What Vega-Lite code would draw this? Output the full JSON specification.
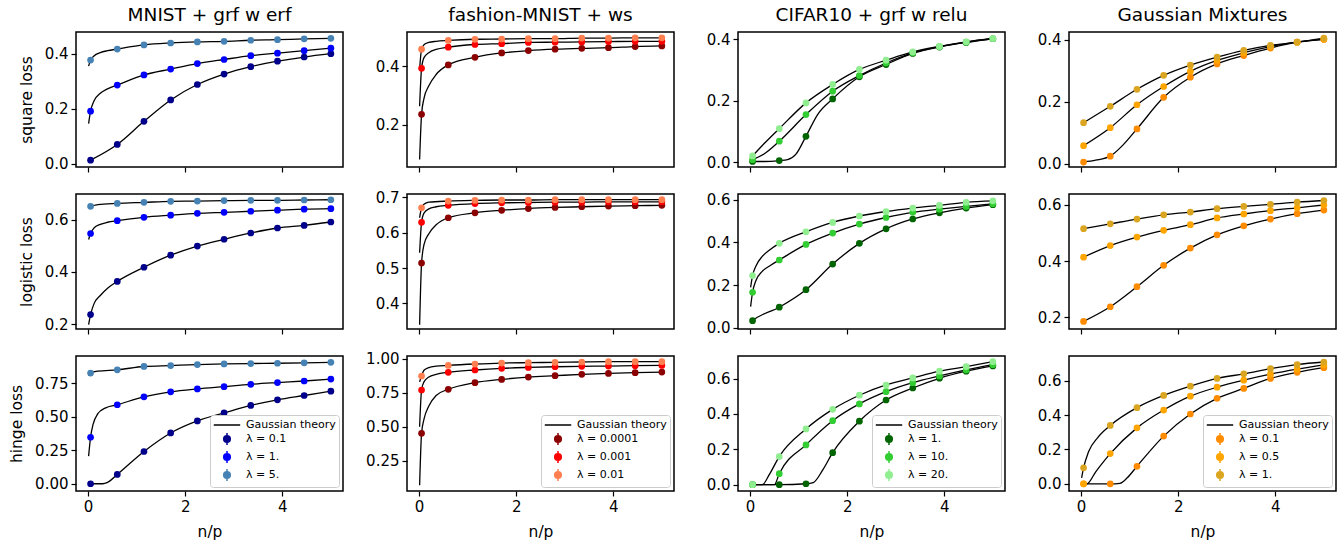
{
"$schema":"https://vega.github.io/schema/vega-lite/v6.json",
"background":"white",
"padding":{"left":8,"top":4,"right":5,"bottom":3},
"columns":4,
"spacing":{"row":27,"column":64},
"bounds":"flush",
"resolve":{"scale":{"color":"independent"},"legend":{"color":"independent"}},
"data":{"values":[
{"p":0,"s":"λ = 0.1","t":"d","x":0.05,"y":0.013},{"p":0,"s":"λ = 0.1","t":"d","x":0.6,"y":0.07},{"p":0,"s":"λ = 0.1","t":"d","x":1.15,"y":0.154},{"p":0,"s":"λ = 0.1","t":"d","x":1.7,"y":0.232},{"p":0,"s":"λ = 0.1","t":"d","x":2.25,"y":0.288},{"p":0,"s":"λ = 0.1","t":"d","x":2.8,"y":0.326},{"p":0,"s":"λ = 0.1","t":"d","x":3.35,"y":0.353},{"p":0,"s":"λ = 0.1","t":"d","x":3.9,"y":0.373},{"p":0,"s":"λ = 0.1","t":"d","x":4.45,"y":0.388},{"p":0,"s":"λ = 0.1","t":"d","x":5,"y":0.4},
{"p":0,"s":"λ = 1.","t":"d","x":0.05,"y":0.191},{"p":0,"s":"λ = 1.","t":"d","x":0.6,"y":0.286},{"p":0,"s":"λ = 1.","t":"d","x":1.15,"y":0.323},{"p":0,"s":"λ = 1.","t":"d","x":1.7,"y":0.344},{"p":0,"s":"λ = 1.","t":"d","x":2.25,"y":0.364},{"p":0,"s":"λ = 1.","t":"d","x":2.8,"y":0.379},{"p":0,"s":"λ = 1.","t":"d","x":3.35,"y":0.393},{"p":0,"s":"λ = 1.","t":"d","x":3.9,"y":0.402},{"p":0,"s":"λ = 1.","t":"d","x":4.45,"y":0.411},{"p":0,"s":"λ = 1.","t":"d","x":5,"y":0.42},
{"p":0,"s":"λ = 1.","t":"g","x":0.01,"y":0.146},{"p":0,"s":"λ = 1.","t":"g","x":0.12,"y":0.228},{"p":0,"s":"λ = 1.","t":"g","x":0.25,"y":0.256},{"p":0,"s":"λ = 1.","t":"g","x":0.4,"y":0.272},
{"p":0,"s":"λ = 5.","t":"d","x":0.05,"y":0.377},{"p":0,"s":"λ = 5.","t":"d","x":0.6,"y":0.417},{"p":0,"s":"λ = 5.","t":"d","x":1.15,"y":0.432},{"p":0,"s":"λ = 5.","t":"d","x":1.7,"y":0.439},{"p":0,"s":"λ = 5.","t":"d","x":2.25,"y":0.443},{"p":0,"s":"λ = 5.","t":"d","x":2.8,"y":0.445},{"p":0,"s":"λ = 5.","t":"d","x":3.35,"y":0.449},{"p":0,"s":"λ = 5.","t":"d","x":3.9,"y":0.451},{"p":0,"s":"λ = 5.","t":"d","x":4.45,"y":0.454},{"p":0,"s":"λ = 5.","t":"d","x":5,"y":0.456},
{"p":0,"s":"λ = 5.","t":"g","x":0.01,"y":0.355},{"p":0,"s":"λ = 5.","t":"g","x":0.12,"y":0.392},{"p":0,"s":"λ = 5.","t":"g","x":0.25,"y":0.404},{"p":0,"s":"λ = 5.","t":"g","x":0.4,"y":0.411},

{"p":1,"s":"λ = 0.0001","t":"d","x":0.05,"y":0.235},{"p":1,"s":"λ = 0.0001","t":"d","x":0.6,"y":0.405},{"p":1,"s":"λ = 0.0001","t":"d","x":1.15,"y":0.431},{"p":1,"s":"λ = 0.0001","t":"d","x":1.7,"y":0.446},{"p":1,"s":"λ = 0.0001","t":"d","x":2.25,"y":0.454},{"p":1,"s":"λ = 0.0001","t":"d","x":2.8,"y":0.459},{"p":1,"s":"λ = 0.0001","t":"d","x":3.35,"y":0.462},{"p":1,"s":"λ = 0.0001","t":"d","x":3.9,"y":0.464},{"p":1,"s":"λ = 0.0001","t":"d","x":4.45,"y":0.468},{"p":1,"s":"λ = 0.0001","t":"d","x":5,"y":0.47},
{"p":1,"s":"λ = 0.0001","t":"g","x":0.01,"y":0.08},{"p":1,"s":"λ = 0.0001","t":"g","x":0.1,"y":0.29},{"p":1,"s":"λ = 0.0001","t":"g","x":0.2,"y":0.333},{"p":1,"s":"λ = 0.0001","t":"g","x":0.35,"y":0.372},
{"p":1,"s":"λ = 0.001","t":"d","x":0.05,"y":0.393},{"p":1,"s":"λ = 0.001","t":"d","x":0.6,"y":0.466},{"p":1,"s":"λ = 0.001","t":"d","x":1.15,"y":0.475},{"p":1,"s":"λ = 0.001","t":"d","x":1.7,"y":0.478},{"p":1,"s":"λ = 0.001","t":"d","x":2.25,"y":0.482},{"p":1,"s":"λ = 0.001","t":"d","x":2.8,"y":0.483},{"p":1,"s":"λ = 0.001","t":"d","x":3.35,"y":0.484},{"p":1,"s":"λ = 0.001","t":"d","x":3.9,"y":0.485},{"p":1,"s":"λ = 0.001","t":"d","x":4.45,"y":0.486},{"p":1,"s":"λ = 0.001","t":"d","x":5,"y":0.486},
{"p":1,"s":"λ = 0.001","t":"g","x":0.01,"y":0.263},{"p":1,"s":"λ = 0.001","t":"g","x":0.1,"y":0.43},{"p":1,"s":"λ = 0.001","t":"g","x":0.2,"y":0.447},{"p":1,"s":"λ = 0.001","t":"g","x":0.35,"y":0.458},
{"p":1,"s":"λ = 0.01","t":"d","x":0.05,"y":0.459},{"p":1,"s":"λ = 0.01","t":"d","x":0.6,"y":0.489},{"p":1,"s":"λ = 0.01","t":"d","x":1.15,"y":0.493},{"p":1,"s":"λ = 0.01","t":"d","x":1.7,"y":0.494},{"p":1,"s":"λ = 0.01","t":"d","x":2.25,"y":0.495},{"p":1,"s":"λ = 0.01","t":"d","x":2.8,"y":0.495},{"p":1,"s":"λ = 0.01","t":"d","x":3.35,"y":0.497},{"p":1,"s":"λ = 0.01","t":"d","x":3.9,"y":0.497},{"p":1,"s":"λ = 0.01","t":"d","x":4.45,"y":0.498},{"p":1,"s":"λ = 0.01","t":"d","x":5,"y":0.498},
{"p":1,"s":"λ = 0.01","t":"g","x":0.01,"y":0.39},{"p":1,"s":"λ = 0.01","t":"g","x":0.1,"y":0.474},{"p":1,"s":"λ = 0.01","t":"g","x":0.2,"y":0.482},{"p":1,"s":"λ = 0.01","t":"g","x":0.35,"y":0.486},

{"p":2,"s":"λ = 1.","t":"d","x":0.05,"y":0.002},{"p":2,"s":"λ = 1.","t":"d","x":0.6,"y":0.005},{"p":2,"s":"λ = 1.","t":"d","x":1.15,"y":0.084},{"p":2,"s":"λ = 1.","t":"d","x":1.7,"y":0.206},{"p":2,"s":"λ = 1.","t":"d","x":2.25,"y":0.278},{"p":2,"s":"λ = 1.","t":"d","x":2.8,"y":0.318},{"p":2,"s":"λ = 1.","t":"d","x":3.35,"y":0.354},{"p":2,"s":"λ = 1.","t":"d","x":3.9,"y":0.375},{"p":2,"s":"λ = 1.","t":"d","x":4.45,"y":0.39},{"p":2,"s":"λ = 1.","t":"d","x":5,"y":0.402},
{"p":2,"s":"λ = 1.","t":"g","x":0.3,"y":0.002},{"p":2,"s":"λ = 1.","t":"g","x":0.77,"y":0.008},{"p":2,"s":"λ = 1.","t":"g","x":0.94,"y":0.025},{"p":2,"s":"λ = 1.","t":"g","x":1.39,"y":0.155},
{"p":2,"s":"λ = 10.","t":"d","x":0.05,"y":0.008},{"p":2,"s":"λ = 10.","t":"d","x":0.6,"y":0.068},{"p":2,"s":"λ = 10.","t":"d","x":1.15,"y":0.155},{"p":2,"s":"λ = 10.","t":"d","x":1.7,"y":0.231},{"p":2,"s":"λ = 10.","t":"d","x":2.25,"y":0.282},{"p":2,"s":"λ = 10.","t":"d","x":2.8,"y":0.323},{"p":2,"s":"λ = 10.","t":"d","x":3.35,"y":0.356},{"p":2,"s":"λ = 10.","t":"d","x":3.9,"y":0.376},{"p":2,"s":"λ = 10.","t":"d","x":4.45,"y":0.391},{"p":2,"s":"λ = 10.","t":"d","x":5,"y":0.402},
{"p":2,"s":"λ = 10.","t":"g","x":0.3,"y":0.028},
{"p":2,"s":"λ = 20.","t":"d","x":0.05,"y":0.02},{"p":2,"s":"λ = 20.","t":"d","x":0.6,"y":0.109},{"p":2,"s":"λ = 20.","t":"d","x":1.15,"y":0.193},{"p":2,"s":"λ = 20.","t":"d","x":1.7,"y":0.253},{"p":2,"s":"λ = 20.","t":"d","x":2.25,"y":0.302},{"p":2,"s":"λ = 20.","t":"d","x":2.8,"y":0.332},{"p":2,"s":"λ = 20.","t":"d","x":3.35,"y":0.359},{"p":2,"s":"λ = 20.","t":"d","x":3.9,"y":0.377},{"p":2,"s":"λ = 20.","t":"d","x":4.45,"y":0.392},{"p":2,"s":"λ = 20.","t":"d","x":5,"y":0.403},
{"p":2,"s":"λ = 20.","t":"g","x":0.3,"y":0.062},

{"p":3,"s":"λ = 0.1","t":"d","x":0.05,"y":0.005},{"p":3,"s":"λ = 0.1","t":"d","x":0.6,"y":0.024},{"p":3,"s":"λ = 0.1","t":"d","x":1.15,"y":0.112},{"p":3,"s":"λ = 0.1","t":"d","x":1.7,"y":0.214},{"p":3,"s":"λ = 0.1","t":"d","x":2.25,"y":0.279},{"p":3,"s":"λ = 0.1","t":"d","x":2.8,"y":0.322},{"p":3,"s":"λ = 0.1","t":"d","x":3.35,"y":0.349},{"p":3,"s":"λ = 0.1","t":"d","x":3.9,"y":0.373},{"p":3,"s":"λ = 0.1","t":"d","x":4.45,"y":0.392},{"p":3,"s":"λ = 0.1","t":"d","x":5,"y":0.401},
{"p":3,"s":"λ = 0.1","t":"g","x":0.3,"y":0.011},{"p":3,"s":"λ = 0.1","t":"g","x":0.85,"y":0.058},
{"p":3,"s":"λ = 0.5","t":"d","x":0.05,"y":0.058},{"p":3,"s":"λ = 0.5","t":"d","x":0.6,"y":0.116},{"p":3,"s":"λ = 0.5","t":"d","x":1.15,"y":0.19},{"p":3,"s":"λ = 0.5","t":"d","x":1.7,"y":0.249},{"p":3,"s":"λ = 0.5","t":"d","x":2.25,"y":0.298},{"p":3,"s":"λ = 0.5","t":"d","x":2.8,"y":0.333},{"p":3,"s":"λ = 0.5","t":"d","x":3.35,"y":0.358},{"p":3,"s":"λ = 0.5","t":"d","x":3.9,"y":0.378},{"p":3,"s":"λ = 0.5","t":"d","x":4.45,"y":0.392},{"p":3,"s":"λ = 0.5","t":"d","x":5,"y":0.402},
{"p":3,"s":"λ = 1.","t":"d","x":0.05,"y":0.132},{"p":3,"s":"λ = 1.","t":"d","x":0.6,"y":0.185},{"p":3,"s":"λ = 1.","t":"d","x":1.15,"y":0.24},{"p":3,"s":"λ = 1.","t":"d","x":1.7,"y":0.285},{"p":3,"s":"λ = 1.","t":"d","x":2.25,"y":0.318},{"p":3,"s":"λ = 1.","t":"d","x":2.8,"y":0.344},{"p":3,"s":"λ = 1.","t":"d","x":3.35,"y":0.366},{"p":3,"s":"λ = 1.","t":"d","x":3.9,"y":0.382},{"p":3,"s":"λ = 1.","t":"d","x":4.45,"y":0.392},{"p":3,"s":"λ = 1.","t":"d","x":5,"y":0.405},

{"p":4,"s":"λ = 0.1","t":"d","x":0.05,"y":0.237},{"p":4,"s":"λ = 0.1","t":"d","x":0.6,"y":0.364},{"p":4,"s":"λ = 0.1","t":"d","x":1.15,"y":0.418},{"p":4,"s":"λ = 0.1","t":"d","x":1.7,"y":0.464},{"p":4,"s":"λ = 0.1","t":"d","x":2.25,"y":0.499},{"p":4,"s":"λ = 0.1","t":"d","x":2.8,"y":0.525},{"p":4,"s":"λ = 0.1","t":"d","x":3.35,"y":0.549},{"p":4,"s":"λ = 0.1","t":"d","x":3.9,"y":0.568},{"p":4,"s":"λ = 0.1","t":"d","x":4.45,"y":0.578},{"p":4,"s":"λ = 0.1","t":"d","x":5,"y":0.591},
{"p":4,"s":"λ = 0.1","t":"g","x":0.01,"y":0.199},{"p":4,"s":"λ = 0.1","t":"g","x":0.12,"y":0.278},{"p":4,"s":"λ = 0.1","t":"g","x":0.25,"y":0.31},{"p":4,"s":"λ = 0.1","t":"g","x":0.4,"y":0.338},
{"p":4,"s":"λ = 1.","t":"d","x":0.05,"y":0.547},{"p":4,"s":"λ = 1.","t":"d","x":0.6,"y":0.596},{"p":4,"s":"λ = 1.","t":"d","x":1.15,"y":0.609},{"p":4,"s":"λ = 1.","t":"d","x":1.7,"y":0.617},{"p":4,"s":"λ = 1.","t":"d","x":2.25,"y":0.624},{"p":4,"s":"λ = 1.","t":"d","x":2.8,"y":0.628},{"p":4,"s":"λ = 1.","t":"d","x":3.35,"y":0.632},{"p":4,"s":"λ = 1.","t":"d","x":3.9,"y":0.636},{"p":4,"s":"λ = 1.","t":"d","x":4.45,"y":0.64},{"p":4,"s":"λ = 1.","t":"d","x":5,"y":0.642},
{"p":4,"s":"λ = 1.","t":"g","x":0.01,"y":0.524},{"p":4,"s":"λ = 1.","t":"g","x":0.12,"y":0.568},{"p":4,"s":"λ = 1.","t":"g","x":0.25,"y":0.582},{"p":4,"s":"λ = 1.","t":"g","x":0.4,"y":0.59},
{"p":4,"s":"λ = 5.","t":"d","x":0.05,"y":0.651},{"p":4,"s":"λ = 5.","t":"d","x":0.6,"y":0.662},{"p":4,"s":"λ = 5.","t":"d","x":1.15,"y":0.666},{"p":4,"s":"λ = 5.","t":"d","x":1.7,"y":0.67},{"p":4,"s":"λ = 5.","t":"d","x":2.25,"y":0.671},{"p":4,"s":"λ = 5.","t":"d","x":2.8,"y":0.673},{"p":4,"s":"λ = 5.","t":"d","x":3.35,"y":0.674},{"p":4,"s":"λ = 5.","t":"d","x":3.9,"y":0.674},{"p":4,"s":"λ = 5.","t":"d","x":4.45,"y":0.675},{"p":4,"s":"λ = 5.","t":"d","x":5,"y":0.676},
{"p":4,"s":"λ = 5.","t":"g","x":0.01,"y":0.647},{"p":4,"s":"λ = 5.","t":"g","x":0.2,"y":0.657},

{"p":5,"s":"λ = 0.0001","t":"d","x":0.05,"y":0.514},{"p":5,"s":"λ = 0.0001","t":"d","x":0.6,"y":0.642},{"p":5,"s":"λ = 0.0001","t":"d","x":1.15,"y":0.656},{"p":5,"s":"λ = 0.0001","t":"d","x":1.7,"y":0.663},{"p":5,"s":"λ = 0.0001","t":"d","x":2.25,"y":0.668},{"p":5,"s":"λ = 0.0001","t":"d","x":2.8,"y":0.671},{"p":5,"s":"λ = 0.0001","t":"d","x":3.35,"y":0.673},{"p":5,"s":"λ = 0.0001","t":"d","x":3.9,"y":0.675},{"p":5,"s":"λ = 0.0001","t":"d","x":4.45,"y":0.676},{"p":5,"s":"λ = 0.0001","t":"d","x":5,"y":0.677},
{"p":5,"s":"λ = 0.0001","t":"g","x":0.01,"y":0.34},{"p":5,"s":"λ = 0.0001","t":"g","x":0.1,"y":0.566},{"p":5,"s":"λ = 0.0001","t":"g","x":0.2,"y":0.597},{"p":5,"s":"λ = 0.0001","t":"g","x":0.35,"y":0.622},
{"p":5,"s":"λ = 0.001","t":"d","x":0.05,"y":0.629},{"p":5,"s":"λ = 0.001","t":"d","x":0.6,"y":0.677},{"p":5,"s":"λ = 0.001","t":"d","x":1.15,"y":0.682},{"p":5,"s":"λ = 0.001","t":"d","x":1.7,"y":0.684},{"p":5,"s":"λ = 0.001","t":"d","x":2.25,"y":0.685},{"p":5,"s":"λ = 0.001","t":"d","x":2.8,"y":0.686},{"p":5,"s":"λ = 0.001","t":"d","x":3.35,"y":0.686},{"p":5,"s":"λ = 0.001","t":"d","x":3.9,"y":0.687},{"p":5,"s":"λ = 0.001","t":"d","x":4.45,"y":0.687},{"p":5,"s":"λ = 0.001","t":"d","x":5,"y":0.687},
{"p":5,"s":"λ = 0.001","t":"g","x":0.01,"y":0.543},{"p":5,"s":"λ = 0.001","t":"g","x":0.1,"y":0.655},{"p":5,"s":"λ = 0.001","t":"g","x":0.2,"y":0.667},{"p":5,"s":"λ = 0.001","t":"g","x":0.35,"y":0.673},
{"p":5,"s":"λ = 0.01","t":"d","x":0.05,"y":0.67},{"p":5,"s":"λ = 0.01","t":"d","x":0.6,"y":0.689},{"p":5,"s":"λ = 0.01","t":"d","x":1.15,"y":0.691},{"p":5,"s":"λ = 0.01","t":"d","x":1.7,"y":0.692},{"p":5,"s":"λ = 0.01","t":"d","x":2.25,"y":0.692},{"p":5,"s":"λ = 0.01","t":"d","x":2.8,"y":0.693},{"p":5,"s":"λ = 0.01","t":"d","x":3.35,"y":0.693},{"p":5,"s":"λ = 0.01","t":"d","x":3.9,"y":0.693},{"p":5,"s":"λ = 0.01","t":"d","x":4.45,"y":0.693},{"p":5,"s":"λ = 0.01","t":"d","x":5,"y":0.693},
{"p":5,"s":"λ = 0.01","t":"g","x":0.01,"y":0.642},{"p":5,"s":"λ = 0.01","t":"g","x":0.1,"y":0.68},{"p":5,"s":"λ = 0.01","t":"g","x":0.2,"y":0.686},

{"p":6,"s":"λ = 1.","t":"d","x":0.05,"y":0.034},{"p":6,"s":"λ = 1.","t":"d","x":0.6,"y":0.097},{"p":6,"s":"λ = 1.","t":"d","x":1.15,"y":0.179},{"p":6,"s":"λ = 1.","t":"d","x":1.7,"y":0.299},{"p":6,"s":"λ = 1.","t":"d","x":2.25,"y":0.396},{"p":6,"s":"λ = 1.","t":"d","x":2.8,"y":0.464},{"p":6,"s":"λ = 1.","t":"d","x":3.35,"y":0.51},{"p":6,"s":"λ = 1.","t":"d","x":3.9,"y":0.539},{"p":6,"s":"λ = 1.","t":"d","x":4.45,"y":0.561},{"p":6,"s":"λ = 1.","t":"d","x":5,"y":0.577},
{"p":6,"s":"λ = 1.","t":"g","x":0.01,"y":0.026},
{"p":6,"s":"λ = 10.","t":"d","x":0.05,"y":0.167},{"p":6,"s":"λ = 10.","t":"d","x":0.6,"y":0.318},{"p":6,"s":"λ = 10.","t":"d","x":1.15,"y":0.391},{"p":6,"s":"λ = 10.","t":"d","x":1.7,"y":0.444},{"p":6,"s":"λ = 10.","t":"d","x":2.25,"y":0.486},{"p":6,"s":"λ = 10.","t":"d","x":2.8,"y":0.517},{"p":6,"s":"λ = 10.","t":"d","x":3.35,"y":0.541},{"p":6,"s":"λ = 10.","t":"d","x":3.9,"y":0.556},{"p":6,"s":"λ = 10.","t":"d","x":4.45,"y":0.569},{"p":6,"s":"λ = 10.","t":"d","x":5,"y":0.581},
{"p":6,"s":"λ = 10.","t":"g","x":0.01,"y":0.1},{"p":6,"s":"λ = 10.","t":"g","x":0.12,"y":0.222},{"p":6,"s":"λ = 10.","t":"g","x":0.25,"y":0.265},{"p":6,"s":"λ = 10.","t":"g","x":0.4,"y":0.29},
{"p":6,"s":"λ = 20.","t":"d","x":0.05,"y":0.245},{"p":6,"s":"λ = 20.","t":"d","x":0.6,"y":0.396},{"p":6,"s":"λ = 20.","t":"d","x":1.15,"y":0.45},{"p":6,"s":"λ = 20.","t":"d","x":1.7,"y":0.494},{"p":6,"s":"λ = 20.","t":"d","x":2.25,"y":0.524},{"p":6,"s":"λ = 20.","t":"d","x":2.8,"y":0.545},{"p":6,"s":"λ = 20.","t":"d","x":3.35,"y":0.561},{"p":6,"s":"λ = 20.","t":"d","x":3.9,"y":0.574},{"p":6,"s":"λ = 20.","t":"d","x":4.45,"y":0.588},{"p":6,"s":"λ = 20.","t":"d","x":5,"y":0.595},
{"p":6,"s":"λ = 20.","t":"g","x":0.01,"y":0.19},{"p":6,"s":"λ = 20.","t":"g","x":0.12,"y":0.29},{"p":6,"s":"λ = 20.","t":"g","x":0.25,"y":0.335},{"p":6,"s":"λ = 20.","t":"g","x":0.4,"y":0.365},

{"p":7,"s":"λ = 0.1","t":"d","x":0.05,"y":0.186},{"p":7,"s":"λ = 0.1","t":"d","x":0.6,"y":0.238},{"p":7,"s":"λ = 0.1","t":"d","x":1.15,"y":0.309},{"p":7,"s":"λ = 0.1","t":"d","x":1.7,"y":0.385},{"p":7,"s":"λ = 0.1","t":"d","x":2.25,"y":0.446},{"p":7,"s":"λ = 0.1","t":"d","x":2.8,"y":0.493},{"p":7,"s":"λ = 0.1","t":"d","x":3.35,"y":0.525},{"p":7,"s":"λ = 0.1","t":"d","x":3.9,"y":0.549},{"p":7,"s":"λ = 0.1","t":"d","x":4.45,"y":0.568},{"p":7,"s":"λ = 0.1","t":"d","x":5,"y":0.581},
{"p":7,"s":"λ = 0.5","t":"d","x":0.05,"y":0.414},{"p":7,"s":"λ = 0.5","t":"d","x":0.6,"y":0.455},{"p":7,"s":"λ = 0.5","t":"d","x":1.15,"y":0.485},{"p":7,"s":"λ = 0.5","t":"d","x":1.7,"y":0.509},{"p":7,"s":"λ = 0.5","t":"d","x":2.25,"y":0.529},{"p":7,"s":"λ = 0.5","t":"d","x":2.8,"y":0.553},{"p":7,"s":"λ = 0.5","t":"d","x":3.35,"y":0.567},{"p":7,"s":"λ = 0.5","t":"d","x":3.9,"y":0.579},{"p":7,"s":"λ = 0.5","t":"d","x":4.45,"y":0.589},{"p":7,"s":"λ = 0.5","t":"d","x":5,"y":0.599},
{"p":7,"s":"λ = 1.","t":"d","x":0.05,"y":0.515},{"p":7,"s":"λ = 1.","t":"d","x":0.6,"y":0.532},{"p":7,"s":"λ = 1.","t":"d","x":1.15,"y":0.549},{"p":7,"s":"λ = 1.","t":"d","x":1.7,"y":0.564},{"p":7,"s":"λ = 1.","t":"d","x":2.25,"y":0.574},{"p":7,"s":"λ = 1.","t":"d","x":2.8,"y":0.586},{"p":7,"s":"λ = 1.","t":"d","x":3.35,"y":0.594},{"p":7,"s":"λ = 1.","t":"d","x":3.9,"y":0.601},{"p":7,"s":"λ = 1.","t":"d","x":4.45,"y":0.609},{"p":7,"s":"λ = 1.","t":"d","x":5,"y":0.615},

{"p":8,"s":"λ = 0.1","t":"d","x":0.05,"y":0},{"p":8,"s":"λ = 0.1","t":"d","x":0.6,"y":0.069},{"p":8,"s":"λ = 0.1","t":"d","x":1.15,"y":0.24},{"p":8,"s":"λ = 0.1","t":"d","x":1.7,"y":0.378},{"p":8,"s":"λ = 0.1","t":"d","x":2.25,"y":0.468},{"p":8,"s":"λ = 0.1","t":"d","x":2.8,"y":0.527},{"p":8,"s":"λ = 0.1","t":"d","x":3.35,"y":0.583},{"p":8,"s":"λ = 0.1","t":"d","x":3.9,"y":0.625},{"p":8,"s":"λ = 0.1","t":"d","x":4.45,"y":0.657},{"p":8,"s":"λ = 0.1","t":"d","x":5,"y":0.689},
{"p":8,"s":"λ = 0.1","t":"g","x":0.3,"y":0},{"p":8,"s":"λ = 0.1","t":"g","x":0.4,"y":0.01},
{"p":8,"s":"λ = 1.","t":"d","x":0.05,"y":0.346},{"p":8,"s":"λ = 1.","t":"d","x":0.6,"y":0.588},{"p":8,"s":"λ = 1.","t":"d","x":1.15,"y":0.647},{"p":8,"s":"λ = 1.","t":"d","x":1.7,"y":0.684},{"p":8,"s":"λ = 1.","t":"d","x":2.25,"y":0.706},{"p":8,"s":"λ = 1.","t":"d","x":2.8,"y":0.723},{"p":8,"s":"λ = 1.","t":"d","x":3.35,"y":0.74},{"p":8,"s":"λ = 1.","t":"d","x":3.9,"y":0.753},{"p":8,"s":"λ = 1.","t":"d","x":4.45,"y":0.765},{"p":8,"s":"λ = 1.","t":"d","x":5,"y":0.779},
{"p":8,"s":"λ = 1.","t":"g","x":0.01,"y":0.206},{"p":8,"s":"λ = 1.","t":"g","x":0.1,"y":0.44},{"p":8,"s":"λ = 1.","t":"g","x":0.2,"y":0.522},{"p":8,"s":"λ = 1.","t":"g","x":0.35,"y":0.563},
{"p":8,"s":"λ = 5.","t":"d","x":0.05,"y":0.824},{"p":8,"s":"λ = 5.","t":"d","x":0.6,"y":0.848},{"p":8,"s":"λ = 5.","t":"d","x":1.15,"y":0.873},{"p":8,"s":"λ = 5.","t":"d","x":1.7,"y":0.88},{"p":8,"s":"λ = 5.","t":"d","x":2.25,"y":0.887},{"p":8,"s":"λ = 5.","t":"d","x":2.8,"y":0.892},{"p":8,"s":"λ = 5.","t":"d","x":3.35,"y":0.895},{"p":8,"s":"λ = 5.","t":"d","x":3.9,"y":0.897},{"p":8,"s":"λ = 5.","t":"d","x":4.45,"y":0.9},{"p":8,"s":"λ = 5.","t":"d","x":5,"y":0.904},
{"p":8,"s":"λ = 5.","t":"g","x":0.01,"y":0.804},{"p":8,"s":"λ = 5.","t":"g","x":0.2,"y":0.838},

{"p":9,"s":"λ = 0.0001","t":"d","x":0.05,"y":0.451},{"p":9,"s":"λ = 0.0001","t":"d","x":0.6,"y":0.775},{"p":9,"s":"λ = 0.0001","t":"d","x":1.15,"y":0.824},{"p":9,"s":"λ = 0.0001","t":"d","x":1.7,"y":0.848},{"p":9,"s":"λ = 0.0001","t":"d","x":2.25,"y":0.865},{"p":9,"s":"λ = 0.0001","t":"d","x":2.8,"y":0.875},{"p":9,"s":"λ = 0.0001","t":"d","x":3.35,"y":0.885},{"p":9,"s":"λ = 0.0001","t":"d","x":3.9,"y":0.892},{"p":9,"s":"λ = 0.0001","t":"d","x":4.45,"y":0.897},{"p":9,"s":"λ = 0.0001","t":"d","x":5,"y":0.902},
{"p":9,"s":"λ = 0.0001","t":"g","x":0.01,"y":0.07},{"p":9,"s":"λ = 0.0001","t":"g","x":0.1,"y":0.555},{"p":9,"s":"λ = 0.0001","t":"g","x":0.2,"y":0.652},{"p":9,"s":"λ = 0.0001","t":"g","x":0.35,"y":0.73},
{"p":9,"s":"λ = 0.001","t":"d","x":0.05,"y":0.77},{"p":9,"s":"λ = 0.001","t":"d","x":0.6,"y":0.9},{"p":9,"s":"λ = 0.001","t":"d","x":1.15,"y":0.917},{"p":9,"s":"λ = 0.001","t":"d","x":1.7,"y":0.929},{"p":9,"s":"λ = 0.001","t":"d","x":2.25,"y":0.936},{"p":9,"s":"λ = 0.001","t":"d","x":2.8,"y":0.941},{"p":9,"s":"λ = 0.001","t":"d","x":3.35,"y":0.944},{"p":9,"s":"λ = 0.001","t":"d","x":3.9,"y":0.946},{"p":9,"s":"λ = 0.001","t":"d","x":4.45,"y":0.949},{"p":9,"s":"λ = 0.001","t":"d","x":5,"y":0.951},
{"p":9,"s":"λ = 0.001","t":"g","x":0.01,"y":0.5},{"p":9,"s":"λ = 0.001","t":"g","x":0.1,"y":0.83},{"p":9,"s":"λ = 0.001","t":"g","x":0.2,"y":0.865},{"p":9,"s":"λ = 0.001","t":"g","x":0.35,"y":0.885},
{"p":9,"s":"λ = 0.01","t":"d","x":0.05,"y":0.873},{"p":9,"s":"λ = 0.01","t":"d","x":0.6,"y":0.951},{"p":9,"s":"λ = 0.01","t":"d","x":1.15,"y":0.961},{"p":9,"s":"λ = 0.01","t":"d","x":1.7,"y":0.968},{"p":9,"s":"λ = 0.01","t":"d","x":2.25,"y":0.971},{"p":9,"s":"λ = 0.01","t":"d","x":2.8,"y":0.973},{"p":9,"s":"λ = 0.01","t":"d","x":3.35,"y":0.976},{"p":9,"s":"λ = 0.01","t":"d","x":3.9,"y":0.978},{"p":9,"s":"λ = 0.01","t":"d","x":4.45,"y":0.978},{"p":9,"s":"λ = 0.01","t":"d","x":5,"y":0.978},
{"p":9,"s":"λ = 0.01","t":"g","x":0.01,"y":0.83},{"p":9,"s":"λ = 0.01","t":"g","x":0.1,"y":0.915},{"p":9,"s":"λ = 0.01","t":"g","x":0.2,"y":0.935},{"p":9,"s":"λ = 0.01","t":"g","x":0.35,"y":0.945},

{"p":10,"s":"λ = 1.","t":"d","x":0.05,"y":0},{"p":10,"s":"λ = 1.","t":"d","x":0.6,"y":0},{"p":10,"s":"λ = 1.","t":"d","x":1.15,"y":0.005},{"p":10,"s":"λ = 1.","t":"d","x":1.7,"y":0.181},{"p":10,"s":"λ = 1.","t":"d","x":2.25,"y":0.359},{"p":10,"s":"λ = 1.","t":"d","x":2.8,"y":0.479},{"p":10,"s":"λ = 1.","t":"d","x":3.35,"y":0.547},{"p":10,"s":"λ = 1.","t":"d","x":3.9,"y":0.602},{"p":10,"s":"λ = 1.","t":"d","x":4.45,"y":0.642},{"p":10,"s":"λ = 1.","t":"d","x":5,"y":0.672},
{"p":10,"s":"λ = 1.","t":"g","x":1.3,"y":0.012},{"p":10,"s":"λ = 1.","t":"g","x":1.5,"y":0.085},
{"p":10,"s":"λ = 10.","t":"d","x":0.05,"y":0},{"p":10,"s":"λ = 10.","t":"d","x":0.6,"y":0.062},{"p":10,"s":"λ = 10.","t":"d","x":1.15,"y":0.225},{"p":10,"s":"λ = 10.","t":"d","x":1.7,"y":0.362},{"p":10,"s":"λ = 10.","t":"d","x":2.25,"y":0.457},{"p":10,"s":"λ = 10.","t":"d","x":2.8,"y":0.526},{"p":10,"s":"λ = 10.","t":"d","x":3.35,"y":0.577},{"p":10,"s":"λ = 10.","t":"d","x":3.9,"y":0.615},{"p":10,"s":"λ = 10.","t":"d","x":4.45,"y":0.649},{"p":10,"s":"λ = 10.","t":"d","x":5,"y":0.679},
{"p":10,"s":"λ = 10.","t":"g","x":0.5,"y":0},
{"p":10,"s":"λ = 20.","t":"d","x":0.05,"y":0},{"p":10,"s":"λ = 20.","t":"d","x":0.6,"y":0.159},{"p":10,"s":"λ = 20.","t":"d","x":1.15,"y":0.315},{"p":10,"s":"λ = 20.","t":"d","x":1.7,"y":0.426},{"p":10,"s":"λ = 20.","t":"d","x":2.25,"y":0.506},{"p":10,"s":"λ = 20.","t":"d","x":2.8,"y":0.564},{"p":10,"s":"λ = 20.","t":"d","x":3.35,"y":0.604},{"p":10,"s":"λ = 20.","t":"d","x":3.9,"y":0.642},{"p":10,"s":"λ = 20.","t":"d","x":4.45,"y":0.668},{"p":10,"s":"λ = 20.","t":"d","x":5,"y":0.696},
{"p":10,"s":"λ = 20.","t":"g","x":0.25,"y":0},{"p":10,"s":"λ = 20.","t":"g","x":0.4,"y":0.06},

{"p":11,"s":"λ = 0.1","t":"d","x":0.05,"y":0},{"p":11,"s":"λ = 0.1","t":"d","x":0.6,"y":0},{"p":11,"s":"λ = 0.1","t":"d","x":1.15,"y":0.102},{"p":11,"s":"λ = 0.1","t":"d","x":1.7,"y":0.278},{"p":11,"s":"λ = 0.1","t":"d","x":2.25,"y":0.407},{"p":11,"s":"λ = 0.1","t":"d","x":2.8,"y":0.498},{"p":11,"s":"λ = 0.1","t":"d","x":3.35,"y":0.556},{"p":11,"s":"λ = 0.1","t":"d","x":3.9,"y":0.614},{"p":11,"s":"λ = 0.1","t":"d","x":4.45,"y":0.65},{"p":11,"s":"λ = 0.1","t":"d","x":5,"y":0.677},
{"p":11,"s":"λ = 0.1","t":"g","x":0.8,"y":0.003},{"p":11,"s":"λ = 0.1","t":"g","x":0.95,"y":0.035},
{"p":11,"s":"λ = 0.5","t":"d","x":0.05,"y":0},{"p":11,"s":"λ = 0.5","t":"d","x":0.6,"y":0.176},{"p":11,"s":"λ = 0.5","t":"d","x":1.15,"y":0.326},{"p":11,"s":"λ = 0.5","t":"d","x":1.7,"y":0.43},{"p":11,"s":"λ = 0.5","t":"d","x":2.25,"y":0.511},{"p":11,"s":"λ = 0.5","t":"d","x":2.8,"y":0.563},{"p":11,"s":"λ = 0.5","t":"d","x":3.35,"y":0.604},{"p":11,"s":"λ = 0.5","t":"d","x":3.9,"y":0.639},{"p":11,"s":"λ = 0.5","t":"d","x":4.45,"y":0.668},{"p":11,"s":"λ = 0.5","t":"d","x":5,"y":0.693},
{"p":11,"s":"λ = 0.5","t":"g","x":0.12,"y":0},{"p":11,"s":"λ = 0.5","t":"g","x":0.3,"y":0.07},
{"p":11,"s":"λ = 1.","t":"d","x":0.05,"y":0.093},{"p":11,"s":"λ = 1.","t":"d","x":0.6,"y":0.34},{"p":11,"s":"λ = 1.","t":"d","x":1.15,"y":0.444},{"p":11,"s":"λ = 1.","t":"d","x":1.7,"y":0.515},{"p":11,"s":"λ = 1.","t":"d","x":2.25,"y":0.569},{"p":11,"s":"λ = 1.","t":"d","x":2.8,"y":0.614},{"p":11,"s":"λ = 1.","t":"d","x":3.35,"y":0.641},{"p":11,"s":"λ = 1.","t":"d","x":3.9,"y":0.671},{"p":11,"s":"λ = 1.","t":"d","x":4.45,"y":0.695},{"p":11,"s":"λ = 1.","t":"d","x":5,"y":0.71},
{"p":11,"s":"λ = 1.","t":"g","x":0.01,"y":0.035},{"p":11,"s":"λ = 1.","t":"g","x":0.15,"y":0.185},{"p":11,"s":"λ = 1.","t":"g","x":0.35,"y":0.272}
]},
"concat":[
{"width":267,"height":135,"title":"MNIST + grf w erf","transform":[{"filter":"datum.p==0"}],
 "encoding":{"x":{"field":"x","type":"quantitative","scale":{"domain":[-0.25,5.25],"nice":false,"zero":false},"axis":{"values":[0,2,4],"labels":false,"title":null}},
  "y":{"field":"y","type":"quantitative","scale":{"domain":[-0.012,0.479],"nice":false,"zero":false},"axis":{"values":[0,0.2,0.4],"format":".1f","title":"square loss"}}},
 "layer":[{"mark":{"type":"line","color":"black","strokeWidth":1.3,"interpolate":"monotone"},"encoding":{"detail":{"field":"s"}}},
  {"transform":[{"filter":"datum.t=='d'"}],"mark":{"type":"circle","size":45,"opacity":1},"encoding":{"color":{"field":"s","type":"nominal","scale":{"domain":["Gaussian theory","λ = 0.1","λ = 1.","λ = 5."],"range":["black","#00008b","#0000ff","#4682b4"]},"legend":null}}}]},
{"width":267,"height":135,"title":"fashion-MNIST + ws","transform":[{"filter":"datum.p==1"}],
 "encoding":{"x":{"field":"x","type":"quantitative","scale":{"domain":[-0.25,5.25],"nice":false,"zero":false},"axis":{"values":[0,2,4],"labels":false,"title":null}},
  "y":{"field":"y","type":"quantitative","scale":{"domain":[0.054,0.518],"nice":false,"zero":false},"axis":{"values":[0.2,0.4],"format":".1f","title":null}}},
 "layer":[{"mark":{"type":"line","color":"black","strokeWidth":1.3,"interpolate":"monotone"},"encoding":{"detail":{"field":"s"}}},
  {"transform":[{"filter":"datum.t=='d'"}],"mark":{"type":"circle","size":45,"opacity":1},"encoding":{"color":{"field":"s","type":"nominal","scale":{"domain":["Gaussian theory","λ = 0.0001","λ = 0.001","λ = 0.01"],"range":["black","#8b0000","#ff0000","#ff7f50"]},"legend":null}}}]},
{"width":267,"height":135,"title":"CIFAR10 + grf w relu","transform":[{"filter":"datum.p==2"}],
 "encoding":{"x":{"field":"x","type":"quantitative","scale":{"domain":[-0.25,5.25],"nice":false,"zero":false},"axis":{"values":[0,2,4],"labels":false,"title":null}},
  "y":{"field":"y","type":"quantitative","scale":{"domain":[-0.016,0.424],"nice":false,"zero":false},"axis":{"values":[0,0.2,0.4],"format":".1f","title":null}}},
 "layer":[{"mark":{"type":"line","color":"black","strokeWidth":1.3,"interpolate":"monotone"},"encoding":{"detail":{"field":"s"}}},
  {"transform":[{"filter":"datum.t=='d'"}],"mark":{"type":"circle","size":45,"opacity":1},"encoding":{"color":{"field":"s","type":"nominal","scale":{"domain":["Gaussian theory","λ = 1.","λ = 10.","λ = 20."],"range":["black","#006400","#32cd32","#90ee90"]},"legend":null}}}]},
{"width":267,"height":135,"title":"Gaussian Mixtures","transform":[{"filter":"datum.p==3"}],
 "encoding":{"x":{"field":"x","type":"quantitative","scale":{"domain":[-0.25,5.25],"nice":false,"zero":false},"axis":{"values":[0,2,4],"labels":false,"title":null}},
  "y":{"field":"y","type":"quantitative","scale":{"domain":[-0.011,0.425],"nice":false,"zero":false},"axis":{"values":[0,0.2,0.4],"format":".1f","title":null}}},
 "layer":[{"mark":{"type":"line","color":"black","strokeWidth":1.3,"interpolate":"monotone"},"encoding":{"detail":{"field":"s"}}},
  {"transform":[{"filter":"datum.t=='d'"}],"mark":{"type":"circle","size":45,"opacity":1},"encoding":{"color":{"field":"s","type":"nominal","scale":{"domain":["Gaussian theory","λ = 0.1","λ = 0.5","λ = 1."],"range":["black","#ff8c00","#ffa500","#daa520"]},"legend":null}}}]},
{"width":267,"height":135,"transform":[{"filter":"datum.p==4"}],
 "encoding":{"x":{"field":"x","type":"quantitative","scale":{"domain":[-0.25,5.25],"nice":false,"zero":false},"axis":{"values":[0,2,4],"labels":false,"title":null}},
  "y":{"field":"y","type":"quantitative","scale":{"domain":[0.182,0.698],"nice":false,"zero":false},"axis":{"values":[0.2,0.4,0.6],"format":".1f","title":"logistic loss"}}},
 "layer":[{"mark":{"type":"line","color":"black","strokeWidth":1.3,"interpolate":"monotone"},"encoding":{"detail":{"field":"s"}}},
  {"transform":[{"filter":"datum.t=='d'"}],"mark":{"type":"circle","size":45,"opacity":1},"encoding":{"color":{"field":"s","type":"nominal","scale":{"domain":["Gaussian theory","λ = 0.1","λ = 1.","λ = 5."],"range":["black","#00008b","#0000ff","#4682b4"]},"legend":null}}}]},
{"width":267,"height":135,"transform":[{"filter":"datum.p==5"}],
 "encoding":{"x":{"field":"x","type":"quantitative","scale":{"domain":[-0.25,5.25],"nice":false,"zero":false},"axis":{"values":[0,2,4],"labels":false,"title":null}},
  "y":{"field":"y","type":"quantitative","scale":{"domain":[0.328,0.709],"nice":false,"zero":false},"axis":{"values":[0.4,0.5,0.6,0.7],"format":".1f","title":null}}},
 "layer":[{"mark":{"type":"line","color":"black","strokeWidth":1.3,"interpolate":"monotone"},"encoding":{"detail":{"field":"s"}}},
  {"transform":[{"filter":"datum.t=='d'"}],"mark":{"type":"circle","size":45,"opacity":1},"encoding":{"color":{"field":"s","type":"nominal","scale":{"domain":["Gaussian theory","λ = 0.0001","λ = 0.001","λ = 0.01"],"range":["black","#8b0000","#ff0000","#ff7f50"]},"legend":null}}}]},
{"width":267,"height":135,"transform":[{"filter":"datum.p==6"}],
 "encoding":{"x":{"field":"x","type":"quantitative","scale":{"domain":[-0.25,5.25],"nice":false,"zero":false},"axis":{"values":[0,2,4],"labels":false,"title":null}},
  "y":{"field":"y","type":"quantitative","scale":{"domain":[-0.005,0.627],"nice":false,"zero":false},"axis":{"values":[0,0.2,0.4,0.6],"format":".1f","title":null}}},
 "layer":[{"mark":{"type":"line","color":"black","strokeWidth":1.3,"interpolate":"monotone"},"encoding":{"detail":{"field":"s"}}},
  {"transform":[{"filter":"datum.t=='d'"}],"mark":{"type":"circle","size":45,"opacity":1},"encoding":{"color":{"field":"s","type":"nominal","scale":{"domain":["Gaussian theory","λ = 1.","λ = 10.","λ = 20."],"range":["black","#006400","#32cd32","#90ee90"]},"legend":null}}}]},
{"width":267,"height":135,"transform":[{"filter":"datum.p==7"}],
 "encoding":{"x":{"field":"x","type":"quantitative","scale":{"domain":[-0.25,5.25],"nice":false,"zero":false},"axis":{"values":[0,2,4],"labels":false,"title":null}},
  "y":{"field":"y","type":"quantitative","scale":{"domain":[0.159,0.638],"nice":false,"zero":false},"axis":{"values":[0.2,0.4,0.6],"format":".1f","title":null}}},
 "layer":[{"mark":{"type":"line","color":"black","strokeWidth":1.3,"interpolate":"monotone"},"encoding":{"detail":{"field":"s"}}},
  {"transform":[{"filter":"datum.t=='d'"}],"mark":{"type":"circle","size":45,"opacity":1},"encoding":{"color":{"field":"s","type":"nominal","scale":{"domain":["Gaussian theory","λ = 0.1","λ = 0.5","λ = 1."],"range":["black","#ff8c00","#ffa500","#daa520"]},"legend":null}}}]},
{"width":267,"height":135,"transform":[{"filter":"datum.p==8"}],
 "encoding":{"x":{"field":"x","type":"quantitative","scale":{"domain":[-0.25,5.25],"nice":false,"zero":false},"axis":{"values":[0,2,4],"format":"d","title":"n/p"}},
  "y":{"field":"y","type":"quantitative","scale":{"domain":[-0.054,0.951],"nice":false,"zero":false},"axis":{"values":[0,0.25,0.5,0.75],"format":".2f","title":"hinge loss"}}},
 "layer":[{"mark":{"type":"line","color":"black","strokeWidth":1.3,"interpolate":"monotone"},"encoding":{"detail":{"field":"s"}}},
  {"transform":[{"filter":"datum.t=='d'"}],"mark":{"type":"circle","size":45,"opacity":1},"encoding":{"color":{"field":"s","type":"nominal","scale":{"domain":["Gaussian theory","λ = 0.1","λ = 1.","λ = 5."],"range":["black","#00008b","#0000ff","#4682b4"]},
   "legend":{"title":null,"orient":"bottom-right","offset":4,"padding":3,"rowPadding":0,"symbolOffset":7,"labelOffset":12,"symbolSize":144,"labelFontSize":11,"labelColor":"black","strokeColor":"#cccccc","fillColor":"white","cornerRadius":3,
    "encoding":{"symbols":{
     "shape":{"condition":{"test":"datum.value == 'Gaussian theory'","value":"M-2.2,0L2.2,0"},"value":"M0,-1L0,1M-0.55,0A0.55,0.55,0,1,1,0.55,0A0.55,0.55,0,1,1,-0.55,0Z"},
     "stroke":{"condition":[{"test":"datum.value == 'Gaussian theory'","value":"black"},{"test":"datum.value == 'λ = 0.1'","value":"#00008b"},{"test":"datum.value == 'λ = 1.'","value":"#0000ff"}],"value":"#4682b4"},
     "strokeWidth":{"value":1.5},"size":{"value":144}}}}}}}]},
{"width":267,"height":135,"transform":[{"filter":"datum.p==9"}],
 "encoding":{"x":{"field":"x","type":"quantitative","scale":{"domain":[-0.25,5.25],"nice":false,"zero":false},"axis":{"values":[0,2,4],"format":"d","title":"n/p"}},
  "y":{"field":"y","type":"quantitative","scale":{"domain":[0.027,1.02],"nice":false,"zero":false},"axis":{"values":[0.25,0.5,0.75,1.0],"format":".2f","title":null}}},
 "layer":[{"mark":{"type":"line","color":"black","strokeWidth":1.3,"interpolate":"monotone"},"encoding":{"detail":{"field":"s"}}},
  {"transform":[{"filter":"datum.t=='d'"}],"mark":{"type":"circle","size":45,"opacity":1},"encoding":{"color":{"field":"s","type":"nominal","scale":{"domain":["Gaussian theory","λ = 0.0001","λ = 0.001","λ = 0.01"],"range":["black","#8b0000","#ff0000","#ff7f50"]},
   "legend":{"title":null,"orient":"bottom-right","offset":4,"padding":3,"rowPadding":0,"symbolOffset":7,"labelOffset":12,"symbolSize":144,"labelFontSize":11,"labelColor":"black","strokeColor":"#cccccc","fillColor":"white","cornerRadius":3,
    "encoding":{"symbols":{
     "shape":{"condition":{"test":"datum.value == 'Gaussian theory'","value":"M-2.2,0L2.2,0"},"value":"M0,-1L0,1M-0.55,0A0.55,0.55,0,1,1,0.55,0A0.55,0.55,0,1,1,-0.55,0Z"},
     "stroke":{"condition":[{"test":"datum.value == 'Gaussian theory'","value":"black"},{"test":"datum.value == 'λ = 0.0001'","value":"#8b0000"},{"test":"datum.value == 'λ = 0.001'","value":"#ff0000"}],"value":"#ff7f50"},
     "strokeWidth":{"value":1.5},"size":{"value":144}}}}}}}]},
{"width":267,"height":135,"transform":[{"filter":"datum.p==10"}],
 "encoding":{"x":{"field":"x","type":"quantitative","scale":{"domain":[-0.25,5.25],"nice":false,"zero":false},"axis":{"values":[0,2,4],"format":"d","title":"n/p"}},
  "y":{"field":"y","type":"quantitative","scale":{"domain":[-0.036,0.728],"nice":false,"zero":false},"axis":{"values":[0,0.2,0.4,0.6],"format":".1f","title":null}}},
 "layer":[{"mark":{"type":"line","color":"black","strokeWidth":1.3,"interpolate":"monotone"},"encoding":{"detail":{"field":"s"}}},
  {"transform":[{"filter":"datum.t=='d'"}],"mark":{"type":"circle","size":45,"opacity":1},"encoding":{"color":{"field":"s","type":"nominal","scale":{"domain":["Gaussian theory","λ = 1.","λ = 10.","λ = 20."],"range":["black","#006400","#32cd32","#90ee90"]},
   "legend":{"title":null,"orient":"bottom-right","offset":4,"padding":3,"rowPadding":0,"symbolOffset":7,"labelOffset":12,"symbolSize":144,"labelFontSize":11,"labelColor":"black","strokeColor":"#cccccc","fillColor":"white","cornerRadius":3,
    "encoding":{"symbols":{
     "shape":{"condition":{"test":"datum.value == 'Gaussian theory'","value":"M-2.2,0L2.2,0"},"value":"M0,-1L0,1M-0.55,0A0.55,0.55,0,1,1,0.55,0A0.55,0.55,0,1,1,-0.55,0Z"},
     "stroke":{"condition":[{"test":"datum.value == 'Gaussian theory'","value":"black"},{"test":"datum.value == 'λ = 1.'","value":"#006400"},{"test":"datum.value == 'λ = 10.'","value":"#32cd32"}],"value":"#90ee90"},
     "strokeWidth":{"value":1.5},"size":{"value":144}}}}}}}]},
{"width":267,"height":135,"transform":[{"filter":"datum.p==11"}],
 "encoding":{"x":{"field":"x","type":"quantitative","scale":{"domain":[-0.25,5.25],"nice":false,"zero":false},"axis":{"values":[0,2,4],"format":"d","title":"n/p"}},
  "y":{"field":"y","type":"quantitative","scale":{"domain":[-0.042,0.745],"nice":false,"zero":false},"axis":{"values":[0,0.2,0.4,0.6],"format":".1f","title":null}}},
 "layer":[{"mark":{"type":"line","color":"black","strokeWidth":1.3,"interpolate":"monotone"},"encoding":{"detail":{"field":"s"}}},
  {"transform":[{"filter":"datum.t=='d'"}],"mark":{"type":"circle","size":45,"opacity":1},"encoding":{"color":{"field":"s","type":"nominal","scale":{"domain":["Gaussian theory","λ = 0.1","λ = 0.5","λ = 1."],"range":["black","#ff8c00","#ffa500","#daa520"]},
   "legend":{"title":null,"orient":"bottom-right","offset":4,"padding":3,"rowPadding":0,"symbolOffset":7,"labelOffset":12,"symbolSize":144,"labelFontSize":11,"labelColor":"black","strokeColor":"#cccccc","fillColor":"white","cornerRadius":3,
    "encoding":{"symbols":{
     "shape":{"condition":{"test":"datum.value == 'Gaussian theory'","value":"M-2.2,0L2.2,0"},"value":"M0,-1L0,1M-0.55,0A0.55,0.55,0,1,1,0.55,0A0.55,0.55,0,1,1,-0.55,0Z"},
     "stroke":{"condition":[{"test":"datum.value == 'Gaussian theory'","value":"black"},{"test":"datum.value == 'λ = 0.1'","value":"#ff8c00"},{"test":"datum.value == 'λ = 0.5'","value":"#ffa500"}],"value":"#daa520"},
     "strokeWidth":{"value":1.5},"size":{"value":144}}}}}}}]}
],
"config":{
 "font":"DejaVu Sans",
 "view":{"stroke":"black","strokeWidth":1.5},
 "axis":{"domain":false,"grid":false,"ticks":true,"tickColor":"black","tickSize":5,"tickWidth":1.2,"labelColor":"black","labelFontSize":15,"labelFont":"DejaVu Sans","labelPadding":3,"labelFlush":false,"titleFont":"DejaVu Sans","titleFontSize":15.5,"titleFontWeight":"normal","titleColor":"black","titlePadding":10},
 "title":{"fontSize":18.5,"fontWeight":"normal","font":"DejaVu Sans","color":"black","offset":8,"anchor":"middle","frame":"group"},
 "legend":{"labelFont":"DejaVu Sans"}
}
}
